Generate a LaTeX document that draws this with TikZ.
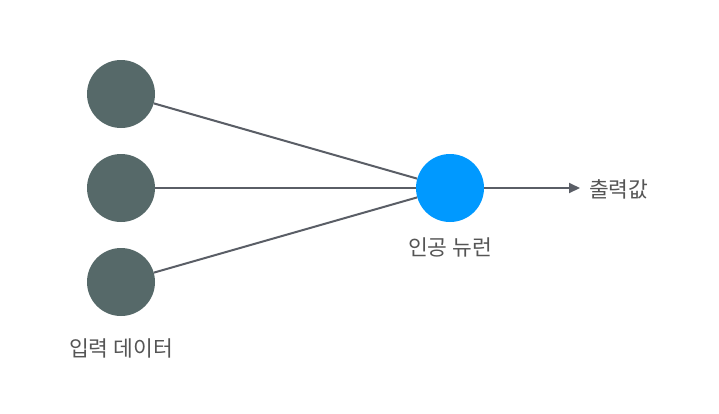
\documentclass[tikz,border=0pt]{standalone}
\usepackage{fontspec}
\setmainfont{Noto Sans CJK KR}
\usetikzlibrary{arrows.meta}
\definecolor{inputc}{HTML}{566969}
\definecolor{neuronc}{HTML}{0099FF}
\definecolor{linec}{HTML}{5A5E66}
\definecolor{textc}{HTML}{555555}
\tikzset{
  inputnode/.style={circle, fill=inputc, minimum size=68pt, inner sep=0pt},
  neuronnode/.style={circle, fill=neuronc, minimum size=68pt, inner sep=0pt},
  conn/.style={draw=linec, line width=2pt},
  lbl/.style={text=textc, font=\fontsize{21.5pt}{25pt}\selectfont, inner sep=0pt}
}
\begin{document}
\begin{tikzpicture}[x=1pt,y=-1pt]
\useasboundingbox (0,0) rectangle (719,413);
\fill[white] (0,0) rectangle (719,413);
\node[inputnode] (i1) at (121,94) {};
\node[inputnode] (i2) at (121,188) {};
\node[inputnode] (i3) at (121,282) {};
\node[neuronnode] (n) at (450,188) {};
\coordinate (out) at (580,188);
\draw[conn] (i1) -- (n);
\draw[conn] (i2) -- (n);
\draw[conn] (i3) -- (n);
\draw[conn, -{Triangle[length=11pt,width=10pt]}] (n) -- (out);
\node[lbl, anchor=west] (o) at (589,189) {출력값};
\node[lbl] (nl) at (450,247) {인공 뉴런};
\node[lbl] (il) at (121,348) {입력 데이터};
\end{tikzpicture}
\end{document}
